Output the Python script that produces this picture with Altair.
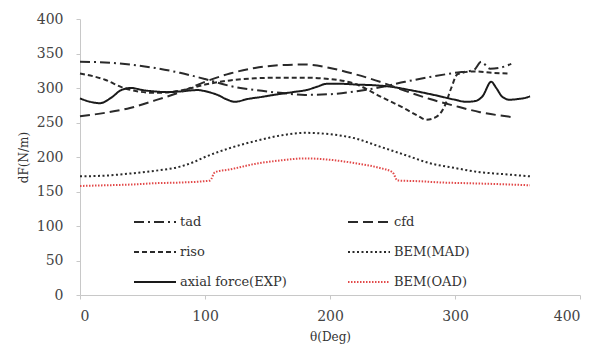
import altair as alt
import pandas as pd

series_order = ["tad", "riso", "axial force(EXP)", "cfd", "BEM(MAD)", "BEM(OAD)"]
series_colors = ["#2a2a2a", "#2a2a2a", "#1a1a1a", "#2a2a2a", "#2a2a2a", "#e24a4a"]
series_dash = [[10, 4, 2, 4], [5, 3], [1, 0], [10, 5], [2, 2.5], [1.5, 1.5]]
series_width = [2, 2, 2, 2, 2.4, 1.3]

tad_theta = [0, 20, 40, 60, 80, 100, 120, 140, 160, 180, 200, 220, 240, 260, 280, 300, 315, 321, 328, 335, 345]
tad_value = [338, 337, 334, 329, 322, 313, 303, 297, 293, 290, 291, 295, 301, 309, 316, 322, 326, 338, 328, 329, 335]

cfd_theta = [0, 20, 40, 60, 80, 100, 120, 140, 160, 180, 200, 220, 240, 260, 280, 300, 320, 345]
cfd_value = [259, 264, 271, 282, 294, 309, 321, 329, 333, 334, 329, 320, 309, 296, 284, 274, 265, 258]

riso_theta = [0, 20, 35, 60, 80, 100, 120, 140, 160, 180, 200, 220, 240, 260, 270, 277, 285, 292, 297, 302, 315, 330, 342]
riso_value = [321, 312, 300, 293, 296, 305, 311, 314, 315, 315, 313, 306, 288, 270, 260, 254, 258, 275, 300, 320, 324, 322, 321]

mad_theta = [0, 20, 40, 60, 80, 90, 100, 120, 140, 160, 180, 200, 220, 240, 260, 280, 300, 320, 340, 360]
mad_value = [172, 173, 176, 180, 186, 192, 200, 213, 223, 231, 235, 233, 227, 215, 203, 191, 184, 178, 175, 172]

exp_theta = [0, 8, 16, 25, 33, 41, 50, 60, 70, 80, 94, 103, 110, 118, 124, 134, 145, 155, 170, 181, 190, 197,
             210, 221, 235, 248, 264, 283, 300, 309, 316, 322, 329, 333, 338, 344, 350, 357, 360]
exp_value = [285, 280, 278, 286, 297, 300, 297, 295, 294, 295, 297, 294, 290, 283, 280, 284, 287, 290, 294, 297, 302, 306,
             306, 305, 304, 302, 297, 290, 283, 280, 281, 288, 309, 300, 287, 283, 284, 286, 288]

oad_theta = [0, 20, 40, 60, 80, 100, 104, 108, 120, 140, 160, 180, 200, 220, 240, 250, 254, 270, 290, 310, 330, 360]
oad_value = [158, 159, 160, 162, 163, 165, 166, 178, 182, 190, 195, 198, 196, 191, 184, 178, 166, 165, 163, 162, 161, 159]

x_ticks = [0, 100, 200, 300, 400]
y_ticks = [0, 50, 100, 150, 200, 250, 300, 350, 400]

series_data = {
    "tad": (tad_theta, tad_value),
    "cfd": (cfd_theta, cfd_value),
    "riso": (riso_theta, riso_value),
    "BEM(MAD)": (mad_theta, mad_value),
    "axial force(EXP)": (exp_theta, exp_value),
    "BEM(OAD)": (oad_theta, oad_value),
}

rows = []
for name in series_order:
    th, va = series_data[name]
    for i, (t, v) in enumerate(zip(th, va)):
        rows.append({"series": name, "theta": t, "value": v, "idx": i})
df = pd.DataFrame(rows)

FONT = "DejaVu Serif"

legend = alt.Legend(
    title=None,
    orient="none",
    legendX=53,
    legendY=181,
    columns=2,
    columnPadding=57,
    rowPadding=1,
    symbolType="stroke",
    symbolSize=1764,
    labelFont=FONT,
    labelFontSize=13,
    labelColor="#333333",
    labelOffset=3,
)

chart = alt.Chart(df).mark_line(interpolate="monotone").encode(
    x=alt.X("theta:Q", scale=alt.Scale(domain=[0, 400], nice=False),
            axis=alt.Axis(values=x_ticks, title="θ(Deg)")),
    y=alt.Y("value:Q", scale=alt.Scale(domain=[0, 400], nice=False),
            axis=alt.Axis(values=y_ticks, title="dF(N/m)")),
    color=alt.Color("series:N", scale=alt.Scale(domain=series_order, range=series_colors), legend=legend),
    strokeDash=alt.StrokeDash("series:N", scale=alt.Scale(domain=series_order, range=series_dash), legend=legend),
    strokeWidth=alt.StrokeWidth("series:N", scale=alt.Scale(domain=series_order, range=series_width), legend=legend),
    order="idx:Q",
).properties(
    width=500,
    height=276,
    autosize=alt.AutoSizeParams(type="none"),
    padding={"left": 80, "top": 19, "right": 24, "bottom": 52},
).configure_view(
    stroke=None
).configure_axis(
    grid=False,
    domainColor="#c8c8c8",
    tickColor="#c8c8c8",
    tickSize=4,
    labelFont=FONT,
    labelFontSize=14,
    labelColor="#444444",
    titleFont=FONT,
    titleFontSize=12,
    titleFontWeight="normal",
    titleColor="#333333",
).configure_axisY(
    labelPadding=13,
    titlePadding=6,
).configure_axisX(
    labelPadding=10,
    titlePadding=8,
)

chart.save("out.html", embed_options={"renderer": "svg", "actions": False})
